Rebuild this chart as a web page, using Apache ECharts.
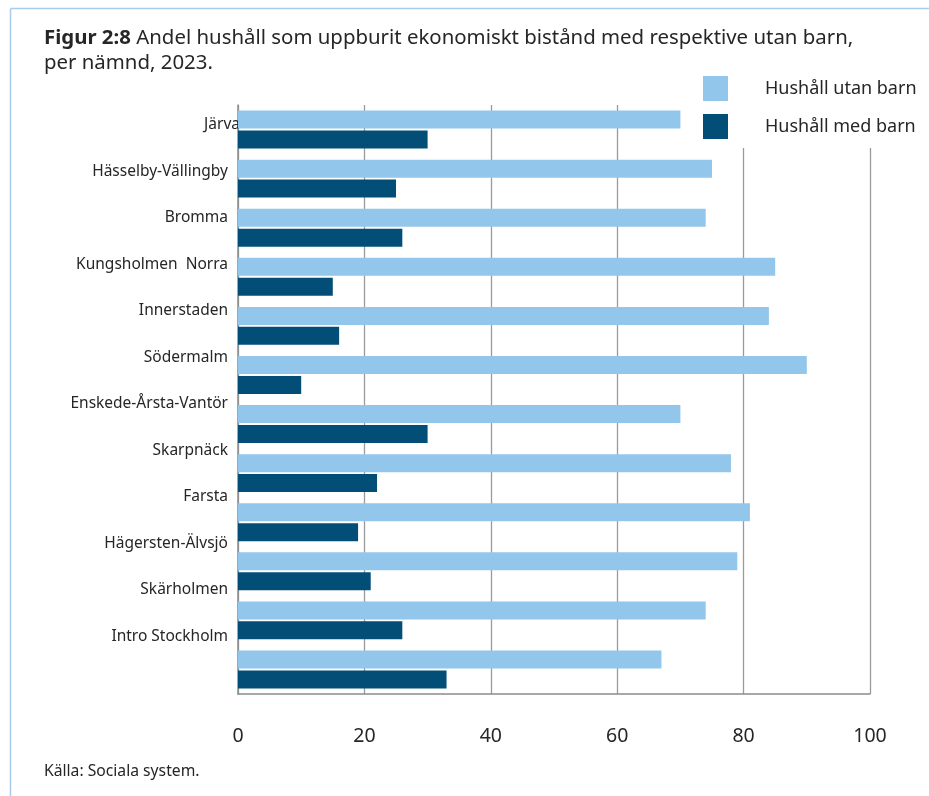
<!DOCTYPE html>
<html>
<head>
<meta charset="utf-8">
<script src="https://cdn.jsdelivr.net/npm/echarts@6/dist/echarts.min.js"></script>
<style>
html,body{margin:0;padding:0;background:#fff;}
#chart{width:929px;height:796px;}
</style>
</head>
<body>
<div id="chart"></div>
<script>
const categories = ['Järva','Hässelby-Vällingby','Bromma','Kungsholmen  Norra','Innerstaden','Södermalm','Enskede-Årsta-Vantör','Skarpnäck','Farsta','Hägersten-Älvsjö','Skärholmen','Intro Stockholm'];
const utanBarn = [70, 75, 74, 85, 84, 90, 70, 78, 81, 79, 74, 67];
const medBarn  = [30, 25, 26, 15, 16, 10, 30, 22, 19, 21, 26, 33];
const xTicks = [0, 20, 40, 60, 80, 100];
const seriesNames = ['Hushåll utan barn', 'Hushåll med barn'];

const FONT = 'Noto Sans';
const TXT = '#262626';
const chart = echarts.init(document.getElementById('chart'), null, {renderer: 'canvas'});
const option = {
  animation: false,
  backgroundColor: '#fff',
  textStyle: {fontFamily: FONT},
  title: {
    left: 44, top: 26, padding: 0,
    text: '{b|Figur 2:8}{r| Andel hushåll som uppburit ekonomiskt bistånd med respektive utan barn,}\n{r|per nämnd, 2023.}',
    textStyle: {
      fontWeight: 'normal', fontSize: 20.4, fontFamily: FONT, color: TXT,
      rich: {
        b: {fontFamily: FONT, fontSize: 20.4, fontWeight: 'bold', color: TXT, lineHeight: 25},
        r: {fontFamily: FONT, fontSize: 20.4, fontWeight: 'normal', color: TXT, lineHeight: 25}
      }
    }
  },
  legend: {
    orient: 'vertical',
    left: 703, top: 76,
    padding: [0, 10, 9, 0],
    backgroundColor: '#fff',
    itemWidth: 25, itemHeight: 25, itemGap: 13,
    icon: 'rect',
    data: seriesNames,
    textStyle: {fontFamily: FONT, fontSize: 18, color: TXT, padding: [0, 0, 0, 32]}
  },
  graphic: [
    {type: 'line', shape: {x1: 10.5, y1: 8.5, x2: 929, y2: 8.5}, style: {stroke: '#a9cbea', lineWidth: 1.5}, silent: true},
    {type: 'line', shape: {x1: 10.5, y1: 8.5, x2: 10.5, y2: 796}, style: {stroke: '#a9cbea', lineWidth: 1.5}, silent: true},
    {type: 'text', left: 44, top: 764, style: {text: 'Källa: Sociala system.', fontFamily: FONT, fontSize: 15.7, fill: TXT}, silent: true}
  ],
  grid: [
    {left: 238, top: 105, width: 632, height: 589, containLabel: false},
    {left: 238, top: 101.75, width: 632, height: 558, containLabel: false}
  ],
  xAxis: [
    {
      gridIndex: 0, type: 'value', min: 0, max: 100, interval: 20,
      axisLine: {show: true, lineStyle: {color: '#8c8c8c', width: 1.5}},
      axisTick: {show: false},
      splitLine: {show: true, lineStyle: {color: '#9a9a9a', width: 1.3}},
      axisLabel: {margin: 32, fontFamily: FONT, fontSize: 19.5, color: TXT,
        formatter: v => xTicks.includes(v) ? String(v) : ''}
    },
    {gridIndex: 1, type: 'value', min: 0, max: 100, show: false}
  ],
  yAxis: [
    {
      gridIndex: 0, type: 'category', data: categories, inverse: true,
      axisLine: {show: true, lineStyle: {color: '#8c8c8c', width: 1.5}},
      axisTick: {show: false},
      axisLabel: {show: false}
    },
    {
      gridIndex: 1, type: 'category', data: categories, inverse: true,
      axisLine: {show: false}, axisTick: {show: false}, splitLine: {show: false},
      axisLabel: {
        margin: -2, fontFamily: FONT, fontSize: 15.5, color: TXT,
        formatter: (v, i) => i === 0 ? '{j|' + v + '}' : '{n|' + v + '}',
        rich: {
          j: {fontFamily: FONT, fontSize: 15.5, color: TXT},
          n: {fontFamily: FONT, fontSize: 15.5, color: TXT, padding: [0, 12, 0, 0]}
        }
      }
    }
  ],
  series: [
    {name: seriesNames[0], type: 'bar', xAxisIndex: 0, yAxisIndex: 0, data: utanBarn,
     barWidth: 18, barGap: '11%', itemStyle: {color: '#92c6eb'}},
    {name: seriesNames[1], type: 'bar', xAxisIndex: 0, yAxisIndex: 0, data: medBarn,
     barWidth: 18, barGap: '11%', itemStyle: {color: '#034e77'}}
  ]
};
chart.setOption(option);
</script>
</body>
</html>
